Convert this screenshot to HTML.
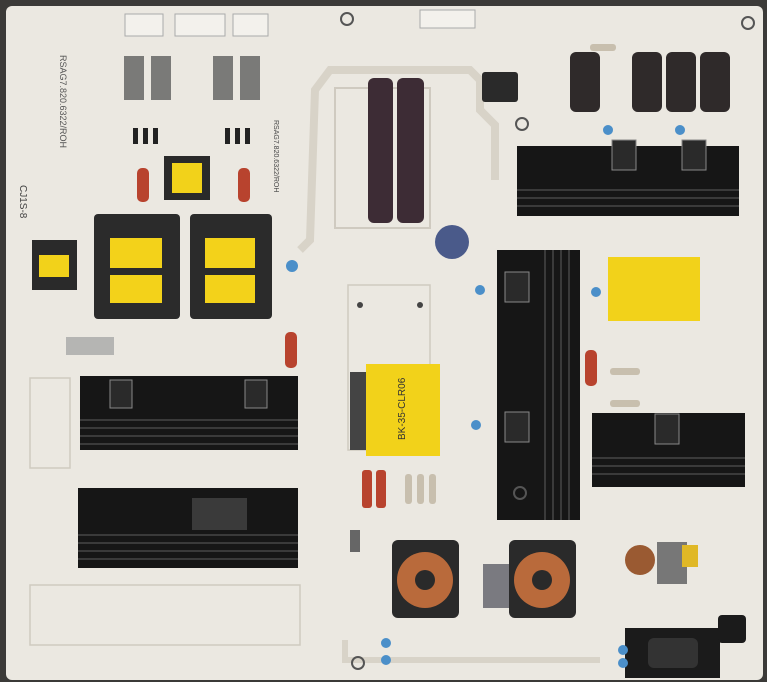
<!DOCTYPE html>
<html><head><meta charset="utf-8"><style>
html,body{margin:0;padding:0;background:#3b3a38;}
svg{display:block}
text{font-family:"Liberation Sans",sans-serif}
</style></head><body>
<svg width="767" height="682" viewBox="0 0 767 682" xmlns="http://www.w3.org/2000/svg">
<rect width="767" height="682" fill="#3b3a38"/>
<rect x="6" y="6" width="757" height="674" rx="6" fill="#ebe8e1"/>
<!-- traces outlines -->
<path d="M300 250 L310 240 L315 90 L330 70 L470 70 L480 80 L480 110 L495 125 L495 180" fill="none" stroke="#d8d3c8" stroke-width="8"/>
<path d="M345 640 L345 660 L600 660" fill="none" stroke="#d8d3c8" stroke-width="6"/>
<rect x="335" y="88" width="95" height="140" fill="none" stroke="#cfcac0" stroke-width="2"/>
<rect x="348" y="285" width="82" height="165" fill="none" stroke="#cfcac0" stroke-width="1.5"/>
<rect x="30" y="378" width="40" height="90" fill="none" stroke="#cfcac0" stroke-width="1.5"/>
<rect x="30" y="585" width="270" height="60" fill="none" stroke="#cfcac0" stroke-width="1.5"/>
<!-- top connectors -->
<rect x="125" y="14" width="38" height="22" fill="#f3f1ec" stroke="#aaa"/>
<rect x="175" y="14" width="50" height="22" fill="#f3f1ec" stroke="#aaa"/>
<rect x="233" y="14" width="35" height="22" fill="#f3f1ec" stroke="#aaa"/>
<rect x="420" y="10" width="55" height="18" fill="#f3f1ec" stroke="#aaa"/>
<!-- grey caps -->
<rect x="124" y="56" width="20" height="44" fill="#7a7a78"/>
<rect x="151" y="56" width="20" height="44" fill="#7a7a78"/>
<rect x="213" y="56" width="20" height="44" fill="#7a7a78"/>
<rect x="240" y="56" width="20" height="44" fill="#7a7a78"/>
<!-- diodes -->
<g fill="#222"><rect x="133" y="128" width="5" height="16"/><rect x="143" y="128" width="5" height="16"/><rect x="153" y="128" width="5" height="16"/><rect x="225" y="128" width="5" height="16"/><rect x="235" y="128" width="5" height="16"/><rect x="245" y="128" width="5" height="16"/></g>
<!-- small transformers -->
<rect x="164" y="156" width="46" height="44" fill="#2a2a2a"/><rect x="172" y="163" width="30" height="30" fill="#f2d21a"/>
<rect x="32" y="240" width="45" height="50" fill="#2a2a2a"/><rect x="39" y="255" width="30" height="22" fill="#f2d21a"/>
<!-- red caps -->
<g fill="#b8432e"><rect x="137" y="168" width="12" height="34" rx="5"/><rect x="238" y="168" width="12" height="34" rx="5"/><rect x="285" y="332" width="12" height="36" rx="5"/><rect x="585" y="350" width="12" height="36" rx="5"/><rect x="362" y="470" width="10" height="38" rx="3"/><rect x="376" y="470" width="10" height="38" rx="3"/></g>
<!-- big transformers -->
<rect x="94" y="214" width="86" height="105" rx="4" fill="#2b2b2b"/><rect x="110" y="238" width="52" height="30" fill="#f3d21a"/><rect x="110" y="275" width="52" height="28" fill="#f3d21a"/>
<rect x="190" y="214" width="82" height="105" rx="4" fill="#2b2b2b"/><rect x="205" y="238" width="50" height="30" fill="#f3d21a"/><rect x="205" y="275" width="50" height="28" fill="#f3d21a"/>
<!-- text labels -->
<text x="274" y="120" transform="rotate(90 274 120)" font-size="7" fill="#444">RSAG7.820.6322/ROH</text>
<text x="60" y="55" transform="rotate(90 60 55)" font-size="9" fill="#555">RSAG7.820.6322/ROH</text>
<text x="20" y="185" transform="rotate(90 20 185)" font-size="10" fill="#444">CJ1S-8</text>
<!-- big purple caps -->
<rect x="368" y="78" width="25" height="145" rx="6" fill="#3d2c35"/>
<rect x="397" y="78" width="27" height="145" rx="6" fill="#3d2c35"/>
<circle cx="452" cy="242" r="17" fill="#4a5a8a"/>
<!-- grey rect -->
<rect x="66" y="337" width="48" height="18" fill="#b5b5b3"/>
<!-- heatsinks -->
<rect x="80" y="376" width="218" height="74" fill="#161616"/>
<g stroke="#3a3a3a" stroke-width="2"><line x1="80" y1="420" x2="298" y2="420"/><line x1="80" y1="428" x2="298" y2="428"/><line x1="80" y1="436" x2="298" y2="436"/><line x1="80" y1="444" x2="298" y2="444"/></g>
<rect x="78" y="488" width="220" height="80" fill="#161616"/>
<g stroke="#3a3a3a" stroke-width="2"><line x1="78" y1="535" x2="298" y2="535"/><line x1="78" y1="543" x2="298" y2="543"/><line x1="78" y1="551" x2="298" y2="551"/><line x1="78" y1="559" x2="298" y2="559"/></g>
<rect x="192" y="498" width="55" height="32" fill="#3a3a3a"/>
<rect x="497" y="250" width="83" height="270" fill="#161616"/>
<g stroke="#3a3a3a" stroke-width="2"><line x1="545" y1="250" x2="545" y2="520"/><line x1="553" y1="250" x2="553" y2="520"/><line x1="561" y1="250" x2="561" y2="520"/><line x1="569" y1="250" x2="569" y2="520"/></g>
<rect x="517" y="146" width="222" height="70" fill="#161616"/>
<g stroke="#3a3a3a" stroke-width="2"><line x1="517" y1="190" x2="739" y2="190"/><line x1="517" y1="198" x2="739" y2="198"/><line x1="517" y1="206" x2="739" y2="206"/></g>
<rect x="592" y="413" width="153" height="74" fill="#161616"/>
<g stroke="#3a3a3a" stroke-width="2"><line x1="592" y1="458" x2="745" y2="458"/><line x1="592" y1="466" x2="745" y2="466"/><line x1="592" y1="474" x2="745" y2="474"/></g>
<!-- transistors -->
<g fill="#2a2a2a" stroke="#888"><rect x="110" y="380" width="22" height="28"/><rect x="245" y="380" width="22" height="28"/><rect x="612" y="140" width="24" height="30"/><rect x="682" y="140" width="24" height="30"/><rect x="505" y="272" width="24" height="30"/><rect x="505" y="412" width="24" height="30"/><rect x="655" y="414" width="24" height="30"/></g>
<!-- top right caps -->
<rect x="482" y="72" width="36" height="30" rx="3" fill="#2a2a2a"/>
<g fill="#2f2a2a"><rect x="570" y="52" width="30" height="60" rx="6"/><rect x="632" y="52" width="30" height="60" rx="6"/><rect x="666" y="52" width="30" height="60" rx="6"/><rect x="700" y="52" width="30" height="60" rx="6"/></g>
<!-- yellow transformers -->
<rect x="608" y="257" width="92" height="64" fill="#f2d21a"/>
<rect x="366" y="364" width="74" height="92" fill="#f2d21a"/>
<rect x="350" y="372" width="16" height="78" fill="#444"/>
<text x="405" y="440" transform="rotate(-90 405 440)" font-size="10" fill="#333">BK-35-CLR06</text>
<!-- resistors -->
<g fill="#c8bfae"><rect x="405" y="474" width="7" height="30" rx="3"/><rect x="417" y="474" width="7" height="30" rx="3"/><rect x="429" y="474" width="7" height="30" rx="3"/><rect x="590" y="44" width="26" height="7" rx="3"/><rect x="610" y="368" width="30" height="7" rx="3"/><rect x="610" y="400" width="30" height="7" rx="3"/></g>
<!-- toroids -->
<rect x="392" y="540" width="67" height="78" rx="6" fill="#2a2a2a"/><circle cx="425" cy="580" r="28" fill="#b96a3b"/><circle cx="425" cy="580" r="10" fill="#2a2a2a"/>
<rect x="509" y="540" width="67" height="78" rx="6" fill="#2a2a2a"/><circle cx="542" cy="580" r="28" fill="#b96a3b"/><circle cx="542" cy="580" r="10" fill="#2a2a2a"/>
<rect x="483" y="564" width="26" height="44" fill="#7a7a80"/>
<rect x="350" y="530" width="10" height="22" fill="#666"/>
<circle cx="640" cy="560" r="15" fill="#9a5a32"/><rect x="657" y="542" width="30" height="42" fill="#777"/><rect x="682" y="545" width="16" height="22" fill="#e0b826"/>
<!-- power socket -->
<path d="M625 628 L720 628 L720 678 L625 678 Z" fill="#1b1b1b"/><rect x="648" y="638" width="50" height="30" rx="6" fill="#333"/>
<rect x="718" y="615" width="28" height="28" rx="4" fill="#1b1b1b"/>
<!-- blue caps -->
<g fill="#4b8fc9"><circle cx="292" cy="266" r="6"/><circle cx="480" cy="290" r="5"/><circle cx="596" cy="292" r="5"/><circle cx="386" cy="643" r="5"/><circle cx="386" cy="660" r="5"/><circle cx="623" cy="650" r="5"/><circle cx="623" cy="663" r="5"/><circle cx="608" cy="130" r="5"/><circle cx="680" cy="130" r="5"/><circle cx="476" cy="425" r="5"/></g>
<!-- mounting holes -->
<g fill="none" stroke="#555" stroke-width="2"><circle cx="347" cy="19" r="6"/><circle cx="522" cy="124" r="6"/><circle cx="520" cy="493" r="6"/><circle cx="358" cy="663" r="6"/><circle cx="748" cy="23" r="6"/></g>
<g fill="#444"><circle cx="360" cy="305" r="3"/><circle cx="420" cy="305" r="3"/></g>
</svg>
</body></html>
